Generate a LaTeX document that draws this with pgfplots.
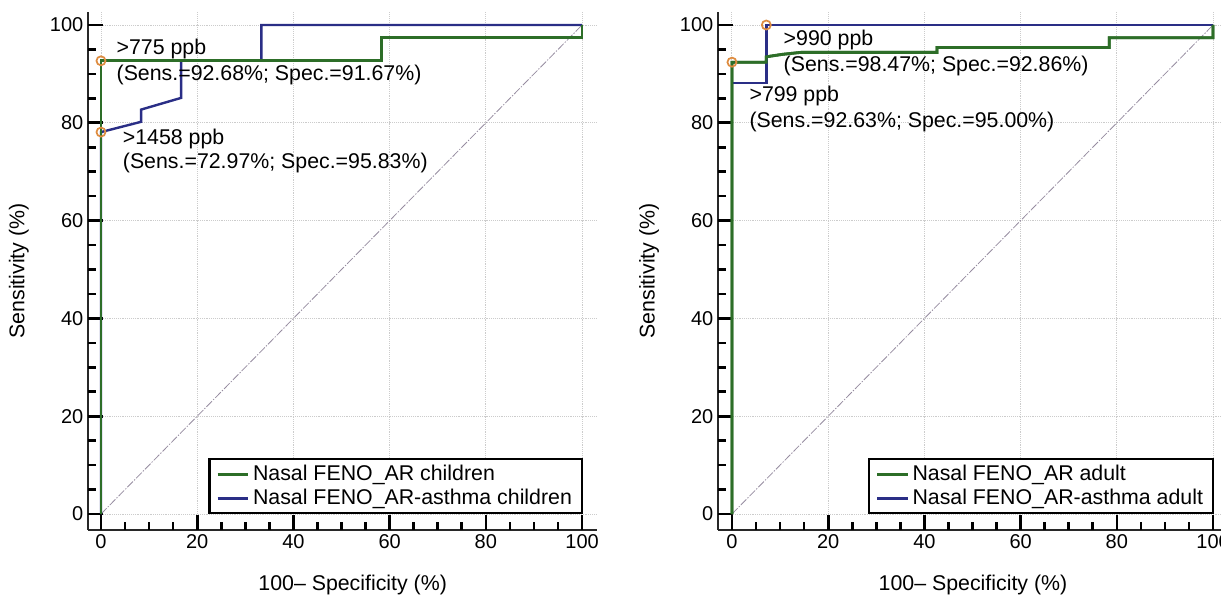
\documentclass[border=0pt]{standalone}
\usepackage{fontspec}
\setmainfont{Liberation Sans}
\usepackage{pgfplots}
\pgfplotsset{compat=1.18}
\definecolor{rocgreen}{RGB}{45,110,40}
\definecolor{rocblue}{RGB}{42,46,134}
\definecolor{mkorange}{RGB}{222,140,64}
\definecolor{axgray}{RGB}{40,40,40}
\definecolor{diaggray}{RGB}{150,140,160}
\newcommand{\fs}{\fontsize{16}{19.2}\selectfont}
\tikzset{tk/.style={black, line width=2pt}}
\pgfplotsset{
  rocaxis/.style={
    scale only axis,
    height=388.5pt,
    ymin=-3.27, ymax=102.66,
    axis x line*=bottom, axis y line*=left,
    axis line style={-, draw=axgray, line width=1.8pt},
    xtick={0,20,...,100}, ytick={0,20,...,100},
    tick align=inside,
    major tick length=10pt,
    every tick/.append style={color=black, line width=2pt},
    xmajorgrids, ymajorgrids,
    major grid style={densely dotted, gray!40, line width=0.7pt},
    /pgf/number format/assume math mode=true,
    ticklabel style={font=\fontsize{15}{18}\selectfont},
    label style={font=\fs},
    xlabel={100– Specificity (\%)},
    ylabel={Sensitivity (\%)},
    clip=false,
    legend cell align=left,
    legend image code/.code={\draw[#1, line width=2.2pt] (0pt,0pt) -- (23pt,0pt);},
    legend style={anchor=south east, draw=black, line width=1.6pt, fill=white,
      font=\fs, inner xsep=5pt, inner ysep=2pt, row sep=0pt,
      nodes={inner sep=2.5pt}},
  },
  bluecurve/.style={rocblue, line width=1.8pt, mark=none},
  greencurve/.style={rocgreen, line width=2.1pt, mark=none},
  diag/.style={diaggray, line width=0.6pt, dash pattern=on 6pt off 1.2pt on 1pt off 1.2pt, forget plot},
  mk/.style={only marks, mark=o, mark size=3.4pt, mark options={draw=mkorange, fill=white, line width=1.3pt}, forget plot},
}
\newcommand{\drawticks}{%
  \pgfplotsinvokeforeach{0,20,40,60,80,100}{%
    \draw[tk] ({axis cs:##1,0} |- {rel axis cs:0,0}) -- ++(0pt,11pt);
    \draw[tk] ({rel axis cs:0,0} |- {axis cs:0,##1}) -- ++(11pt,0pt);}%
  \pgfplotsinvokeforeach{5,10,15,25,30,35,45,50,55,65,70,75,85,90,95}{%
    \draw[tk] ({axis cs:##1,0} |- {rel axis cs:0,0}) -- ++(0pt,6pt);
    \draw[tk] ({rel axis cs:0,0} |- {axis cs:0,##1}) -- ++(6pt,0pt);}%
}
\begin{document}
\begin{tikzpicture}
% ---------------- Left panel: children ----------------
\begin{axis}[rocaxis,
  at={(66pt,49.5pt)}, anchor=south west,
  width=381.75pt,
  xmin=-2.7, xmax=103.1,
  xlabel style={at={(axis description cs:0.52,-0.106)}, anchor=center},
  ylabel style={at={(axis description cs:-0.1356,0.5)}, anchor=center},
  legend style={at={(axis cs:100.2,0)}},
]
\drawticks
\addplot[diag] coordinates {(0,0) (100,100)};
\addplot[greencurve] coordinates {
 (0,0) (0,92.68) (58.33,92.68) (58.33,97.4) (100,97.4) (100,100)};
\addlegendentry{Nasal FENO\_AR children}
\addplot[bluecurve] coordinates {
 (0,0) (0,78.1) (8.33,80.2) (8.33,82.7) (16.67,85.1) (16.67,92.68)
 (33.33,92.68) (33.33,100) (100,100)};
\addlegendentry{Nasal FENO\_AR-asthma children}
\addplot[greencurve, forget plot] coordinates {
 (0,0) (0,92.68) (58.33,92.68) (58.33,97.4) (100,97.4) (100,100)};
\addplot[mk] coordinates {(0,92.68) (0,78.1)};
\node[anchor=west, font=\fs, inner sep=0pt] at (axis cs:3.2,95.0) {>775 ppb};
\node[anchor=west, font=\fs, inner sep=0pt] at (axis cs:3.2,89.7) {(Sens.=92.68\%; Spec.=91.67\%)};
\node[anchor=west, font=\fs, inner sep=0pt] at (axis cs:4.5,76.7) {>1458 ppb};
\node[anchor=west, font=\fs, inner sep=0pt] at (axis cs:4.5,71.8) {(Sens.=72.97\%; Spec.=95.83\%)};
\end{axis}
% ---------------- Right panel: adults ----------------
\begin{axis}[rocaxis,
  at={(538.5pt,49.5pt)}, anchor=south west,
  width=382.5pt,
  xmin=-2.9, xmax=103.1,
  xlabel style={at={(axis description cs:0.50,-0.106)}, anchor=center},
  ylabel style={at={(axis description cs:-0.1353,0.5)}, anchor=center},
  legend style={at={(axis cs:100.2,0)}},
]
\drawticks
\addplot[diag] coordinates {(0,0) (100,100)};
\addplot[greencurve] coordinates {
 (0,0) (0,92.4) (7.14,92.4) (7.14,93.5) (10.5,94.0) (14.3,94.4) (42.6,94.4)
 (42.6,95.4) (78.4,95.4) (78.4,97.4) (100,97.4) (100,100)};
\addlegendentry{Nasal FENO\_AR adult}
\addplot[bluecurve] coordinates {
 (0,0) (0,88.1) (7.14,88.1) (7.14,100) (100,100)};
\addlegendentry{Nasal FENO\_AR-asthma adult}
\addplot[greencurve, forget plot] coordinates {
 (0,0) (0,92.4) (7.14,92.4) (7.14,93.5) (10.5,94.0) (14.3,94.4) (42.6,94.4)
 (42.6,95.4) (78.4,95.4) (78.4,97.4) (100,97.4) (100,100)};
\addplot[mk] coordinates {(0,92.4) (7.14,100)};
\node[anchor=west, font=\fs, inner sep=0pt] at (axis cs:10.7,96.9) {>990 ppb};
\node[anchor=west, font=\fs, inner sep=0pt] at (axis cs:10.7,91.6) {(Sens.=98.47\%; Spec.=92.86\%)};
\node[anchor=west, font=\fs, inner sep=0pt] at (axis cs:3.6,85.5) {>799 ppb};
\node[anchor=west, font=\fs, inner sep=0pt] at (axis cs:3.6,80.1) {(Sens.=92.63\%; Spec.=95.00\%)};
\end{axis}
\pgfresetboundingbox
\path[use as bounding box] (0,0) rectangle (915.75pt,447pt);
\end{tikzpicture}
\end{document}
